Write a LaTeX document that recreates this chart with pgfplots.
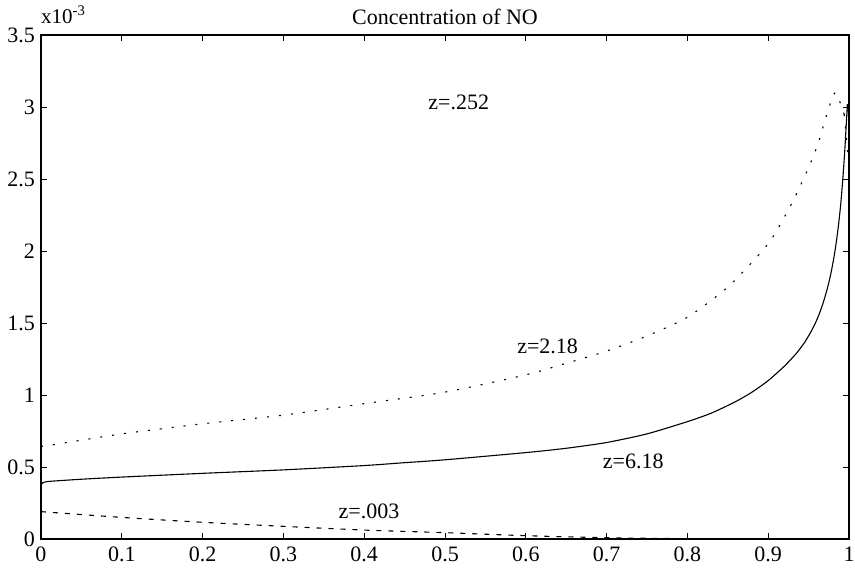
\documentclass[border=0pt]{standalone}
\usepackage{fontspec}
\setmainfont{Liberation Serif}
\usepackage{pgfplots}
\pgfplotsset{compat=1.18}
\begin{document}
\begin{tikzpicture}[x=1pt,y=1pt]
\begin{axis}[
  at={(0,0)}, anchor=south west,
  scale only axis, width=808pt, height=504pt,
  xmin=0, xmax=1, ymin=0, ymax=3.5,
  xtick={0,0.1,0.2,0.3,0.4,0.5,0.6,0.7,0.8,0.9,1},
  xticklabels={0,0.1,0.2,0.3,0.4,0.5,0.6,0.7,0.8,0.9,1},
  ytick={0,0.5,1,1.5,2,2.5,3,3.5},
  yticklabels={0,0.5,1,1.5,2,2.5,3,3.5},
  tick align=inside,
  major tick length=6pt,
  every tick/.style={black, line width=1pt},
  axis line style={black, line width=1.3pt},
  ticklabel style={font=\fontsize{22}{26}\selectfont},
  xticklabel style={anchor=north, inner sep=0pt, yshift=-8pt},
  yticklabel style={anchor=east, inner sep=0pt, xshift=-6pt},
  clip=false,
  every axis plot/.append style={black, line width=1.1pt},
]
% z=6.18 (solid)
\addplot[solid, smooth, tension=0.4] coordinates {
(0,0.375) (0.002,0.39) (0.01,0.40) (0.05,0.415) (0.1,0.43) (0.2,0.456)
(0.3,0.48) (0.4,0.51) (0.45,0.53) (0.5,0.55) (0.6,0.60) (0.65,0.63)
(0.7,0.67) (0.75,0.73) (0.8,0.815) (0.83,0.875) (0.86,0.955) (0.88,1.02)
(0.90,1.10) (0.92,1.20) (0.935,1.29) (0.945,1.365) (0.952,1.43)
(0.958,1.495) (0.963,1.56) (0.968,1.64) (0.972,1.715) (0.975,1.78)
(0.978,1.855) (0.981,1.945) (0.984,2.05) (0.987,2.18) (0.990,2.34)
(0.993,2.55) (0.995,2.72) (0.997,2.92) (0.998,3.02)
};
\addplot[solid] coordinates {(0.998,3.02) (1.0,2.9) (1.0,0)};
% z=2.18 (dotted)
\addplot[dash pattern=on 2pt off 10pt, smooth, tension=0.4] coordinates {
(0,0.645) (0.01,0.65) (0.1,0.73) (0.2,0.80) (0.3,0.86) (0.4,0.94)
(0.5,1.02) (0.6,1.14) (0.65,1.22) (0.7,1.305) (0.75,1.41) (0.8,1.54)
(0.85,1.75) (0.9,2.05) (0.93,2.34) (0.95,2.58) (0.962,2.75) (0.972,2.94)
(0.983,3.10) (0.994,2.95)
};
\addplot[dash pattern=on 2pt off 10pt] coordinates {(0.994,2.95) (1.0,2.6) (1.0,0)};
% z=.003 (dashed)
\addplot[dash pattern=on 5pt off 7pt, smooth] coordinates {
(0,0.19) (0.1,0.15) (0.2,0.116) (0.3,0.088) (0.4,0.062) (0.5,0.044)
(0.6,0.023) (0.7,0.009) (0.8,0.002) (0.9,0.0) (1.0,0.0)
};
\node[font=\fontsize{22}{26}\selectfont] at (axis cs:0.517,3.03) {z=.252};
\node[font=\fontsize{22}{26}\selectfont] at (axis cs:0.627,1.335) {z=2.18};
\node[font=\fontsize{22}{26}\selectfont] at (axis cs:0.733,0.537) {z=6.18};
\node[font=\fontsize{22}{26}\selectfont] at (axis cs:0.406,0.19) {z=.003};
\node[font=\fontsize{22}{26}\selectfont, anchor=base, yshift=11pt] at (rel axis cs:0.5,1) {Concentration of NO};
\node[font=\fontsize{21}{25}\selectfont, anchor=base west, yshift=12pt, inner sep=0pt] at (rel axis cs:0,1) {x10\textsuperscript{-3}};
\end{axis}
\pgfresetboundingbox
\useasboundingbox (-41,-32) rectangle (814,539);
\end{tikzpicture}
\end{document}
